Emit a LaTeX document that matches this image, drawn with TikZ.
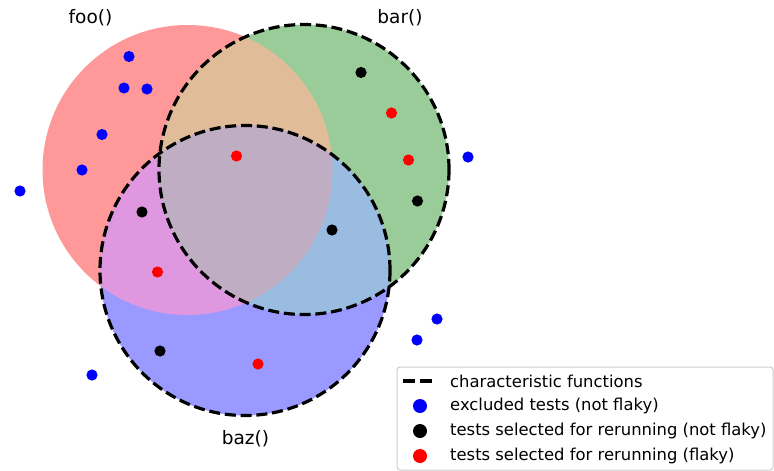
\documentclass[tikz,border=0pt]{standalone}
\usepackage{fontspec}
\setmainfont{DejaVu Sans}
\definecolor{cfoo}{RGB}{255,153,153}
\definecolor{cbar}{RGB}{153,204,153}
\definecolor{cbaz}{RGB}{153,153,255}
\definecolor{cfoobar}{RGB}{224,188,153}
\definecolor{cfoobaz}{RGB}{223,152,223}
\definecolor{cbarbaz}{RGB}{153,188,224}
\definecolor{call}{RGB}{191,173,195}
\definecolor{legborder}{RGB}{204,204,204}
\tikzset{
  dashline/.style={draw=black,line width=3.2pt,dash pattern=on 11pt off 4.8pt},
  bdot/.style={fill=blue},
  kdot/.style={fill=black},
  rdot/.style={fill=red},
  setlabel/.style={font=\fontsize{18.5}{22}\selectfont,inner sep=0pt},
  legtext/.style={font=\fontsize{16.4}{20}\selectfont,anchor=west,inner sep=0pt},
}
\begin{document}
\begin{tikzpicture}[x=1pt,y=-1pt]
\useasboundingbox (0,0) rectangle (774,471);
\def\R{145}
\coordinate (foo) at (187.5,170);
\coordinate (bar) at (304,169.5);
\coordinate (baz) at (245,270.5);
% base fills
\fill[cfoo] (foo) circle (\R);
\fill[cbar] (bar) circle (\R);
\fill[cbaz] (baz) circle (\R);
\begin{scope}
  \clip (foo) circle (\R);
  \fill[cfoobar] (bar) circle (\R);
  \fill[cfoobaz] (baz) circle (\R);
\end{scope}
\begin{scope}
  \clip (bar) circle (\R);
  \fill[cbarbaz] (baz) circle (\R);
\end{scope}
\begin{scope}
  \clip (foo) circle (\R);
  \clip (bar) circle (\R);
  \fill[call] (baz) circle (\R);
\end{scope}
% dashed outlines
\draw[dashline] (bar) circle (\R);
\draw[dashline] (baz) circle (\R);
% labels
\node[setlabel] (lfoo) at (90.5,18) {foo()};
\node[setlabel] (lbar) at (400,18) {bar()};
\node[setlabel] (lbaz) at (245.5,439) {baz()};
% points
\def\pr{5.6}
\foreach \x/\y in {129/56.5,124/88,147/89,102/134.5,82/170,20/191,468/157,437/319,417/340,92/375}
  \fill[bdot] (\x,\y) circle (\pr);
\foreach \x/\y in {361/72.5,417.5/201,142/212,332/230,160/351}
  \fill[kdot] (\x,\y) circle (\pr);
\foreach \x/\y in {236.5/156,391.5/113,408.5/160,157.5/272,258/364}
  \fill[rdot] (\x,\y) circle (\pr);
% legend
\node[draw=legborder,line width=1pt,fill=white,fill opacity=0.8,rounded corners=3pt,
      minimum width=376pt,minimum height=103pt,inner sep=0pt] (legend) at (585,418.5) {};
\coordinate (d1) at (403,381);
\coordinate (d2) at (433,381);
\draw[dashline,dash pattern=on 12pt off 4.5pt] (d1) -- (d2);
\fill[blue] (420,406) circle (7);
\fill[black] (420,431) circle (7);
\fill[red] (420,456) circle (7);
\node[legtext] (t1) at (450,381) {characteristic functions};
\node[legtext] (t2) at (450,406) {excluded tests (not flaky)};
\node[legtext] (t3) at (450,431) {tests selected for rerunning (not flaky)};
\node[legtext] (t4) at (450,456) {tests selected for rerunning (flaky)};
\end{tikzpicture}
\end{document}
